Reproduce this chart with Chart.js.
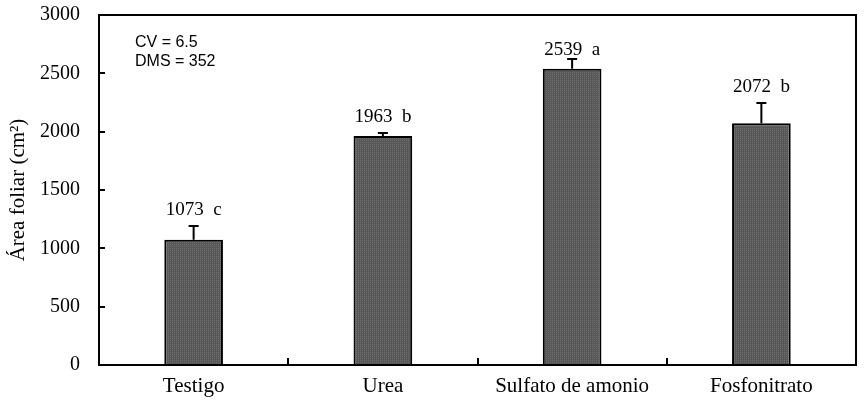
<!DOCTYPE html>
<html>
<head>
<meta charset="utf-8">
<script src="https://cdn.jsdelivr.net/npm/chart.js@4"></script>
<style>
  html, body { margin: 0; padding: 0; background: #fff; }
  #wrap { width: 868px; height: 411px; }
</style>
</head>
<body>
<div id="wrap"><canvas id="c" width="868" height="411"></canvas></div>
<script>
// data
const categories = ['Testigo', 'Urea', 'Sulfato de amonio', 'Fosfonitrato'];
const areaValues = [1073, 1963, 2539, 2072];
const errValues = [118, 26, 84, 174];
const letters = ['c', 'b', 'a', 'b'];
const yTicks = [0, 500, 1000, 1500, 2000, 2500, 3000];
const statsNote = ['CV = 6.5', 'DMS = 352'];

const SERIF = "'Liberation Serif', 'Times New Roman', serif";
const SANS = "'Liberation Sans', Arial, sans-serif";
const INK = '#000';

// dotted grey fill like the original
function dotPattern() {
  const p = document.createElement('canvas');
  p.width = 2; p.height = 2;
  const g = p.getContext('2d');
  g.fillStyle = '#575757'; g.fillRect(0, 0, 2, 2);
  g.fillStyle = '#707070'; g.fillRect(0, 0, 1, 1);
  return g.createPattern(p, 'repeat');
}

// box, inward ticks, error bars, labels
const decor = {
  id: 'decor',
  afterDatasetsDraw(chart) {
    const { ctx, chartArea: a, scales: { x, y } } = chart;
    ctx.save();
    ctx.strokeStyle = INK;
    ctx.lineWidth = 2;
    ctx.strokeRect(a.left, a.top, a.right - a.left, a.bottom - a.top);

    ctx.beginPath();
    yTicks.forEach((v) => {
      const py = Math.round(y.getPixelForValue(v));
      ctx.moveTo(a.left, py); ctx.lineTo(a.left + 6, py);
    });
    for (let i = 1; i < categories.length; i++) {
      const px = Math.round((x.getPixelForValue(i - 1) + x.getPixelForValue(i)) / 2);
      ctx.moveTo(px, a.bottom); ctx.lineTo(px, a.bottom - 7);
    }
    ctx.stroke();

    const meta = chart.getDatasetMeta(0);
    ctx.font = '19px ' + SERIF;
    ctx.fillStyle = INK;
    ctx.textAlign = 'center';
    ctx.textBaseline = 'middle';
    meta.data.forEach((bar, i) => {
      const top = y.getPixelForValue(areaValues[i] + errValues[i]);
      const base = y.getPixelForValue(areaValues[i]);
      ctx.beginPath();
      ctx.moveTo(bar.x, base); ctx.lineTo(bar.x, top);
      ctx.moveTo(bar.x - 5, top); ctx.lineTo(bar.x + 5, top);
      ctx.stroke();
      // tight to the cap when close to the frame top
      const gap = Math.min(16, top - a.top - 35);
      ctx.fillText(areaValues[i] + '  ' + letters[i], bar.x, top - gap);
    });

    ctx.font = '16px ' + SANS;
    ctx.textAlign = 'left';
    statsNote.forEach((t, i) => ctx.fillText(t, a.left + 36, a.top + 28 + i * 19));
    ctx.restore();
  },
};

new Chart(document.getElementById('c'), {
  type: 'bar',
  data: {
    labels: categories,
    datasets: [{
      data: areaValues,
      backgroundColor: dotPattern(),
      borderColor: INK,
      borderWidth: 2,
      categoryPercentage: 1,
      barPercentage: 0.31,
    }],
  },
  options: {
    responsive: false,
    animation: false,
    layout: { padding: { top: 15, right: 12, left: 0, bottom: 0 } },
    plugins: { legend: { display: false }, tooltip: { enabled: false } },
    scales: {
      x: {
        grid: { display: false, drawTicks: false },
        border: { display: false },
        ticks: { color: INK, font: { family: SERIF, size: 21 }, padding: 9 },
        afterFit: (s) => { s.height = 46; },
      },
      y: {
        min: 0, max: 3000,
        grid: { display: false, drawTicks: false },
        border: { display: false },
        afterBuildTicks: (s) => { s.ticks = yTicks.map((v) => ({ value: v })); },
        ticks: {
          color: INK, font: { family: SERIF, size: 20 }, padding: 19,
          callback: (v) => String(v),
        },
        title: {
          display: true,
          text: 'Área foliar (cm²)',
          color: INK,
          font: { family: SERIF, size: 21 },
          padding: { top: 6, bottom: 0 },
        },
        afterFit: (s) => { s.width = 99; s.paddingTop = 0; s.paddingBottom = 0; },
      },
    },
  },
  plugins: [decor],
});
</script>
</body>
</html>
